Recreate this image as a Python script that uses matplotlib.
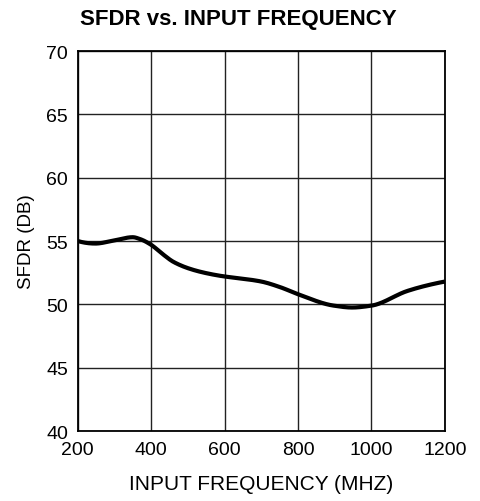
import matplotlib
matplotlib.use("Agg")
import matplotlib.pyplot as plt
import numpy as np

# SFDR curve
freq_mhz = [200, 248, 300, 350, 370, 400, 430, 461, 506, 552, 600, 643, 700, 752, 800, 897, 947, 1000, 1097, 1152, 1200]
sfdr_db = [55.0, 54.8, 55.05, 55.3, 55.15, 54.7, 54.0, 53.35, 52.8, 52.45, 52.2, 52.05, 51.8, 51.35, 50.8, 49.9, 49.75, 49.9, 51.05, 51.5, 51.8]

x_ticks = [200, 400, 600, 800, 1000, 1200]
y_ticks = [40, 45, 50, 55, 60, 65, 70]

plt.rcParams["font.family"] = ["Liberation Sans", "DejaVu Sans"]

fig = plt.figure(figsize=(4.81, 5.02), dpi=100)
ax = fig.add_axes([0.1615, 0.1394, 0.7635, 0.757])

# smooth the hand-read points for drawing
fine = np.linspace(min(freq_mhz), max(freq_mhz), 400)
try:
    from scipy.interpolate import PchipInterpolator
    smooth = PchipInterpolator(freq_mhz, sfdr_db)(fine)
except ImportError:
    smooth = np.interp(fine, freq_mhz, sfdr_db)
ax.plot(fine, smooth, color="black", linewidth=3.0, solid_capstyle="butt")

ax.set_xlim(200, 1200)
ax.set_ylim(40, 70)
ax.set_xticks(x_ticks)
ax.set_yticks(y_ticks)
ax.grid(True, color="#222222", linewidth=1.0)
ax.tick_params(axis="x", length=0, labelsize=14, pad=7)
ax.tick_params(axis="y", length=0, labelsize=14, pad=7)
for spine in ax.spines.values():
    spine.set_linewidth(1.3)

ax.set_xlabel("INPUT FREQUENCY (MHZ)", fontsize=15, labelpad=12)
ax.set_ylabel("SFDR (DB)", fontsize=13.5, labelpad=8)
fig.text(0.495, 0.961, "SFDR vs. INPUT FREQUENCY", fontsize=16, fontweight="bold",
         ha="center", va="center")

fig.savefig("out.png", dpi=100)
